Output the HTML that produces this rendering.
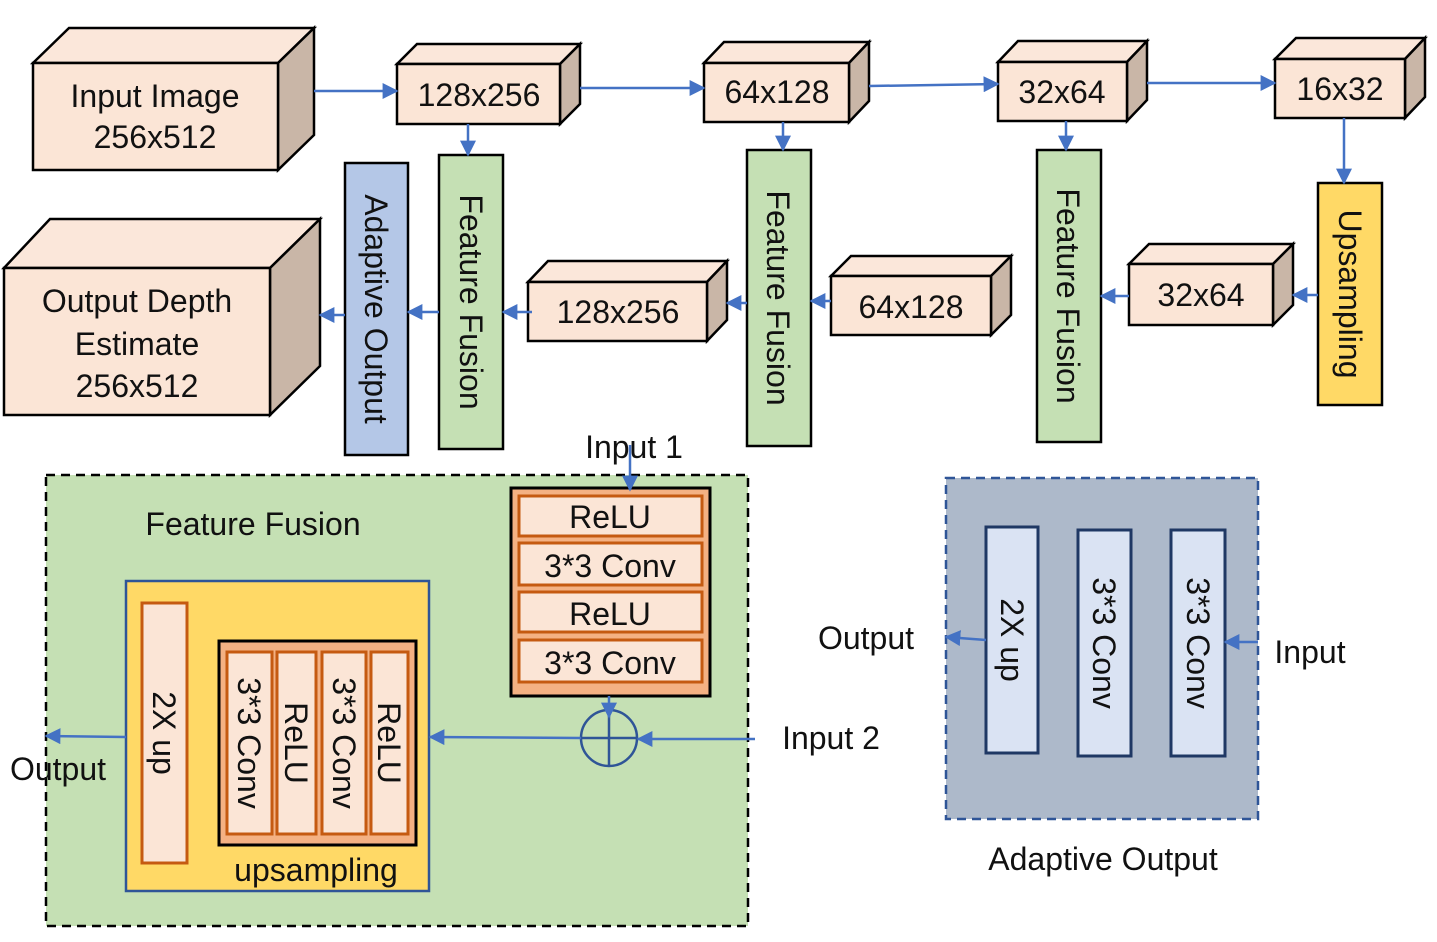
<!DOCTYPE html>
<html><head><meta charset="utf-8"><style>
html,body{margin:0;padding:0;background:#fff}
svg{display:block}
text{font-family:"Liberation Sans","DejaVu Sans",sans-serif;fill:#111}
</style></head><body>
<svg width="1437" height="942" viewBox="0 0 1437 942" xmlns="http://www.w3.org/2000/svg">
<defs>
<marker id="ar" viewBox="0 0 10 10" refX="9" refY="5" markerWidth="16" markerHeight="16" markerUnits="userSpaceOnUse" orient="auto"><path d="M0,0 L10,5 L0,10 z" fill="#4472c4"/></marker>
</defs>
<g stroke="#000" stroke-width="2.5" stroke-linejoin="miter">
<polygon points="33,63 69,28 314,28 278,63" fill="#fbe7da"/>
<polygon points="278,63 314,28 314,135 278,170" fill="#c9b6a7"/>
<rect x="33" y="63" width="245" height="107" fill="#fbe5d6"/>
<polygon points="397,64 417,44 580,44 560,64" fill="#fbe7da"/>
<polygon points="560,64 580,44 580,104 560,124" fill="#c9b6a7"/>
<rect x="397" y="64" width="163" height="60" fill="#fbe5d6"/>
<polygon points="704,63 724,42 869,42 849,63" fill="#fbe7da"/>
<polygon points="849,63 869,42 869,101 849,122" fill="#c9b6a7"/>
<rect x="704" y="63" width="145" height="59" fill="#fbe5d6"/>
<polygon points="998,62 1018,41 1147,41 1127,62" fill="#fbe7da"/>
<polygon points="1127,62 1147,41 1147,100 1127,121" fill="#c9b6a7"/>
<rect x="998" y="62" width="129" height="59" fill="#fbe5d6"/>
<polygon points="1275,59 1296,38 1425,38 1405,59" fill="#fbe7da"/>
<polygon points="1405,59 1425,38 1425,97 1405,118" fill="#c9b6a7"/>
<rect x="1275" y="59" width="130" height="59" fill="#fbe5d6"/>
<polygon points="4,268 50,219 320,219 270,268" fill="#fbe7da"/>
<polygon points="270,268 320,219 320,366 270,415" fill="#c9b6a7"/>
<rect x="4" y="268" width="266" height="147" fill="#fbe5d6"/>
<polygon points="528,282 548,261 727,261 707,282" fill="#fbe7da"/>
<polygon points="707,282 727,261 727,320 707,341" fill="#c9b6a7"/>
<rect x="528" y="282" width="179" height="59" fill="#fbe5d6"/>
<polygon points="831,276 851,256 1011,256 991,276" fill="#fbe7da"/>
<polygon points="991,276 1011,256 1011,315 991,335" fill="#c9b6a7"/>
<rect x="831" y="276" width="160" height="59" fill="#fbe5d6"/>
<polygon points="1129,264 1149,244 1293,244 1273,264" fill="#fbe7da"/>
<polygon points="1273,264 1293,244 1293,305 1273,325" fill="#c9b6a7"/>
<rect x="1129" y="264" width="144" height="61" fill="#fbe5d6"/>
<rect x="345" y="163" width="63" height="292" fill="#b4c7e7"/>
<rect x="439" y="155" width="64" height="294" fill="#c5e0b4"/>
<rect x="747" y="150" width="64" height="296" fill="#c5e0b4"/>
<rect x="1037" y="150" width="64" height="292" fill="#c5e0b4"/>
<rect x="1318" y="183" width="64" height="222" fill="#ffd966"/>
</g>
<g font-size="32" text-anchor="middle">
<text x="155" y="107">Input Image</text>
<text x="155" y="148">256x512</text>
<text x="479" y="106">128x256</text>
<text x="777" y="103">64x128</text>
<text x="1062" y="103">32x64</text>
<text x="1340" y="100">16x32</text>
<text x="137" y="312">Output Depth</text>
<text x="137" y="355">Estimate</text>
<text x="137" y="397">256x512</text>
<text x="618" y="323">128x256</text>
<text x="911" y="318">64x128</text>
<text x="1201" y="306">32x64</text>
<text transform="translate(365,309) rotate(90)">Adaptive Output</text>
<text transform="translate(460,302) rotate(90)">Feature Fusion</text>
<text transform="translate(767,298) rotate(90)">Feature Fusion</text>
<text transform="translate(1057,296) rotate(90)">Feature Fusion</text>
<text transform="translate(1339,294) rotate(90)">Upsampling</text>
</g>
<g stroke="#4472c4" stroke-width="2.5" fill="none" marker-end="url(#ar)">
<line x1="314" y1="91" x2="397" y2="91"/>
<line x1="580" y1="88" x2="704" y2="88"/>
<line x1="869" y1="86" x2="998" y2="84"/>
<line x1="1147" y1="83" x2="1275" y2="83"/>
<line x1="468" y1="124" x2="468" y2="155"/>
<line x1="783" y1="122" x2="783" y2="150"/>
<line x1="1066" y1="121" x2="1066" y2="150"/>
<line x1="1344" y1="118" x2="1344" y2="183"/>
<line x1="1318" y1="295" x2="1293" y2="295"/>
<line x1="1129" y1="296" x2="1101" y2="296"/>
<line x1="831" y1="301" x2="811" y2="301"/>
<line x1="747" y1="303" x2="727" y2="303"/>
<line x1="532" y1="312" x2="503" y2="312"/>
<line x1="439" y1="312" x2="408" y2="312"/>
<line x1="345" y1="315" x2="320" y2="315"/>
</g>

<rect x="46" y="475" width="702" height="451" fill="#c5e0b4" stroke="#000" stroke-width="2.5" stroke-dasharray="9,6"/>
<text x="253" y="535" font-size="32" text-anchor="middle">Feature Fusion</text>
<rect x="511" y="488" width="199" height="208" fill="#f4b183" stroke="#000" stroke-width="3"/>
<g fill="#fbe5d6" stroke="#c55a11" stroke-width="3">
<rect x="519" y="496" width="183" height="40"/>
<rect x="519" y="543" width="183" height="42"/>
<rect x="519" y="592" width="183" height="40"/>
<rect x="519" y="640" width="183" height="42"/>
</g>
<g font-size="32" text-anchor="middle">
<text x="610" y="528">ReLU</text>
<text x="610" y="577">3*3 Conv</text>
<text x="610" y="625">ReLU</text>
<text x="610" y="674">3*3 Conv</text>
</g>
<rect x="126" y="581" width="303" height="310" fill="#ffd966" stroke="#2f5597" stroke-width="2.5"/>
<rect x="142" y="603" width="45" height="260" fill="#fbe5d6" stroke="#c55a11" stroke-width="3"/>
<rect x="219" y="641" width="197" height="204" fill="#f4b183" stroke="#000" stroke-width="3"/>
<g fill="#fbe5d6" stroke="#c55a11" stroke-width="3">
<rect x="227" y="652" width="45" height="182"/>
<rect x="277" y="652" width="39" height="182"/>
<rect x="322" y="652" width="44" height="182"/>
<rect x="371" y="652" width="37" height="182"/>
</g>
<g font-size="32" text-anchor="middle">
<text transform="translate(153,733) rotate(90)">2X up</text>
<text transform="translate(238,743) rotate(90)">3*3 Conv</text>
<text transform="translate(285,743) rotate(90)">ReLU</text>
<text transform="translate(333,743) rotate(90)">3*3 Conv</text>
<text transform="translate(378,743) rotate(90)">ReLU</text>
<text x="316" y="881">upsampling</text>
<text x="634" y="458">Input 1</text>
<text x="831" y="749">Input 2</text>
<text x="58" y="780">Output</text>
</g>
<circle cx="609" cy="738" r="28" fill="none" stroke="#2f5597" stroke-width="2.5"/>
<line x1="581" y1="738" x2="637" y2="738" stroke="#2f5597" stroke-width="2.5"/>
<line x1="609" y1="710" x2="609" y2="766" stroke="#2f5597" stroke-width="2.5"/>
<g stroke="#4472c4" stroke-width="2.5" fill="none" marker-end="url(#ar)">
<line x1="630" y1="445" x2="630" y2="490"/>
<line x1="609" y1="696" x2="609" y2="717"/>
<line x1="755" y1="739" x2="638" y2="739"/>
<line x1="581" y1="738" x2="430" y2="737"/>
<line x1="126" y1="737" x2="46" y2="736"/>
</g>

<rect x="946" y="478" width="312" height="341" fill="#adb9ca" stroke="#2f5597" stroke-width="2.5" stroke-dasharray="9,6"/>
<g fill="#dae3f3" stroke="#1f3864" stroke-width="3">
<rect x="986" y="527" width="52" height="226"/>
<rect x="1078" y="530" width="53" height="226"/>
<rect x="1171" y="530" width="54" height="226"/>
</g>
<g font-size="32" text-anchor="middle">
<text transform="translate(1001,640) rotate(90)">2X up</text>
<text transform="translate(1093,643) rotate(90)">3*3 Conv</text>
<text transform="translate(1187,643) rotate(90)">3*3 Conv</text>
<text x="866" y="649">Output</text>
<text x="1310" y="663">Input</text>
<text x="1103" y="870">Adaptive Output</text>
</g>
<g stroke="#4472c4" stroke-width="2.5" fill="none" marker-end="url(#ar)">
<line x1="986" y1="640" x2="946" y2="637"/>
<line x1="1258" y1="642" x2="1225" y2="642"/>
</g>
</svg>
</body></html>
